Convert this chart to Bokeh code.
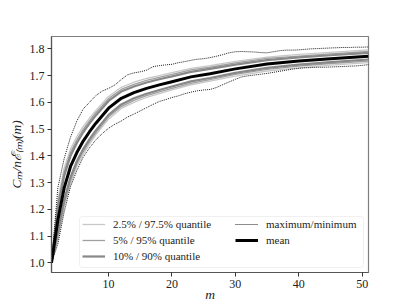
from bokeh.plotting import figure
from bokeh.models import Range1d, FixedTicker, Legend, LegendItem, BoxAnnotation
from bokeh.embed import file_html
from bokeh.resources import INLINE

# sparse grid for mean and quantiles
M = [1, 2, 3, 4, 5, 6, 7, 8, 9, 10, 12, 14, 16, 18, 20, 23, 26, 30, 35, 40, 45, 51]
MEAN = [1.000, 1.160, 1.280, 1.360, 1.412, 1.455, 1.490, 1.522, 1.550, 1.578, 1.615,
        1.636, 1.652, 1.665, 1.677, 1.695, 1.707, 1.725, 1.743, 1.754, 1.763, 1.772]
Q90 = [1.000, 1.205, 1.325, 1.400, 1.448, 1.488, 1.521, 1.551, 1.578, 1.605, 1.640,
       1.659, 1.674, 1.686, 1.697, 1.714, 1.725, 1.741, 1.758, 1.768, 1.776, 1.785]
Q95 = [1.000, 1.220, 1.340, 1.413, 1.460, 1.499, 1.531, 1.561, 1.587, 1.614, 1.648,
       1.667, 1.682, 1.693, 1.704, 1.721, 1.731, 1.747, 1.764, 1.773, 1.781, 1.790]
Q975 = [1.000, 1.235, 1.355, 1.426, 1.472, 1.510, 1.541, 1.570, 1.596, 1.622, 1.656,
        1.675, 1.689, 1.700, 1.711, 1.727, 1.737, 1.753, 1.769, 1.779, 1.787, 1.796]
Q10 = [1.000, 1.115, 1.235, 1.320, 1.380, 1.425, 1.462, 1.495, 1.524, 1.553, 1.592,
       1.615, 1.632, 1.646, 1.659, 1.678, 1.691, 1.710, 1.729, 1.741, 1.750, 1.760]
Q05 = [1.000, 1.100, 1.220, 1.307, 1.370, 1.415, 1.453, 1.486, 1.516, 1.545, 1.584,
       1.607, 1.625, 1.639, 1.652, 1.671, 1.685, 1.704, 1.723, 1.735, 1.745, 1.754]
Q025 = [1.000, 1.085, 1.210, 1.294, 1.360, 1.405, 1.444, 1.478, 1.508, 1.537, 1.577,
        1.600, 1.618, 1.632, 1.646, 1.665, 1.679, 1.698, 1.717, 1.729, 1.739, 1.748]

# full grid for maximum / minimum
M_ALL = list(range(1, 52))
MAXV = [1.000, 1.280, 1.390, 1.470, 1.530, 1.575, 1.600, 1.625, 1.642, 1.652,
        1.665, 1.685, 1.703, 1.710, 1.714, 1.720, 1.733, 1.737, 1.740, 1.742,
        1.748, 1.752, 1.757, 1.761, 1.763, 1.767, 1.772, 1.778, 1.785, 1.789,
        1.790, 1.789, 1.788, 1.786, 1.785, 1.789, 1.793, 1.795, 1.795, 1.796,
        1.798, 1.800, 1.801, 1.802, 1.803, 1.804, 1.805, 1.805, 1.806, 1.806, 1.807]
MINV = [1.000, 1.070, 1.190, 1.285, 1.345, 1.395, 1.430, 1.460, 1.483, 1.503,
        1.518, 1.530, 1.545, 1.556, 1.568, 1.580, 1.592, 1.603, 1.610, 1.618,
        1.624, 1.632, 1.638, 1.643, 1.646, 1.648, 1.655, 1.666, 1.676, 1.686,
        1.695, 1.699, 1.702, 1.705, 1.708, 1.712, 1.716, 1.720, 1.724, 1.727,
        1.729, 1.730, 1.731, 1.731, 1.732, 1.733, 1.734, 1.735, 1.736, 1.738, 1.741]

X_TICKS = [10, 20, 30, 40, 50]
Y_TICKS = [1.0, 1.1, 1.2, 1.3, 1.4, 1.5, 1.6, 1.7, 1.8]

X_LABEL = "m"
Y_LABEL = "Cₘ/nℰ₍ₘ₎(m)"
LABELS = ["2.5% / 97.5% quantile", "5% / 95% quantile", "10% / 90% quantile",
          "maximum/minimum", "mean"]

SERIF = "Liberation Serif"

p = figure(frame_width=317, frame_height=236, output_backend="svg",
           toolbar_location=None,
           x_range=Range1d(1, 51), y_range=Range1d(0.9637, 1.846),
           min_border_left=51, min_border_right=25, min_border_top=36,
           min_border_bottom=27)

p.xgrid.visible = False
p.ygrid.visible = False
p.outline_line_color = "#7f7f7f"
p.outline_line_width = 1.2
p.background_fill_color = "white"
p.border_fill_color = "white"

for ax in (p.xaxis[0], p.yaxis[0]):
    ax.axis_line_color = "#555555"
    ax.axis_line_width = 1.2
    ax.major_tick_line_color = "#333333"
    ax.major_tick_out = 4
    ax.major_tick_in = 0
    ax.minor_tick_out = 0
    ax.minor_tick_in = 0
    ax.major_label_text_font = SERIF
    ax.major_label_text_font_size = "12px"
    ax.major_label_text_color = "#222222"
    ax.major_label_standoff = 3
    ax.axis_label_text_font = SERIF
    ax.axis_label_text_font_style = "italic"
    ax.axis_label_text_font_size = "13.5px"
    ax.axis_label_text_color = "#222222"

p.xaxis.ticker = FixedTicker(ticks=X_TICKS)
p.yaxis.ticker = FixedTicker(ticks=Y_TICKS)
p.yaxis.major_label_overrides = {v: f"{v:.1f}" for v in Y_TICKS}
p.yaxis.axis_label = Y_LABEL
p.yaxis.axis_label_standoff = 3
p.xaxis.axis_label = X_LABEL
p.xaxis.axis_label_standoff = -4

r975a = p.line(M, Q975, line_color="#c8c8c8", line_width=1.3)
p.line(M, Q025, line_color="#c8c8c8", line_width=1.3)
r95a = p.line(M, Q95, line_color="#a0a0a0", line_width=1.3)
p.line(M, Q05, line_color="#a0a0a0", line_width=1.3)
r90a = p.line(M, Q90, line_color="#888888", line_width=2.2)
p.line(M, Q10, line_color="#888888", line_width=2.2)
rmax = p.line(M_ALL, MAXV, line_color="black", line_width=0.9, line_dash="1 1")
p.line(M_ALL, MINV, line_color="black", line_width=0.9, line_dash="1 1")
rmean = p.line(M, MEAN, line_color="black", line_width=3.0)

# legend frame (screen units, relative to the plot frame)
box = BoxAnnotation(left=28, right=312, bottom=5, top=56,
                    left_units="screen", right_units="screen",
                    bottom_units="screen", top_units="screen",
                    fill_color="white", fill_alpha=0.8,
                    line_color="#cccccc", line_width=1, border_radius=3)
p.add_layout(box)

common = dict(label_text_font=SERIF, label_text_font_size="11px",
              label_text_color="#222222",
              glyph_width=23, glyph_height=14, label_height=14,
              label_standoff=8, spacing=2, padding=3, margin=0,
              border_line_alpha=0, background_fill_alpha=0)

leg1 = Legend(items=[LegendItem(label=LABELS[0], renderers=[r975a]),
                     LegendItem(label=LABELS[1], renderers=[r95a]),
                     LegendItem(label=LABELS[2], renderers=[r90a])],
              location=(28, 6), **common)
leg2 = Legend(items=[LegendItem(label=LABELS[3], renderers=[rmax]),
                     LegendItem(label=LABELS[4], renderers=[rmean])],
              location=(181, 22), **common)
p.add_layout(leg1)
p.add_layout(leg2)

open("out.html", "w").write(file_html(p, INLINE))
